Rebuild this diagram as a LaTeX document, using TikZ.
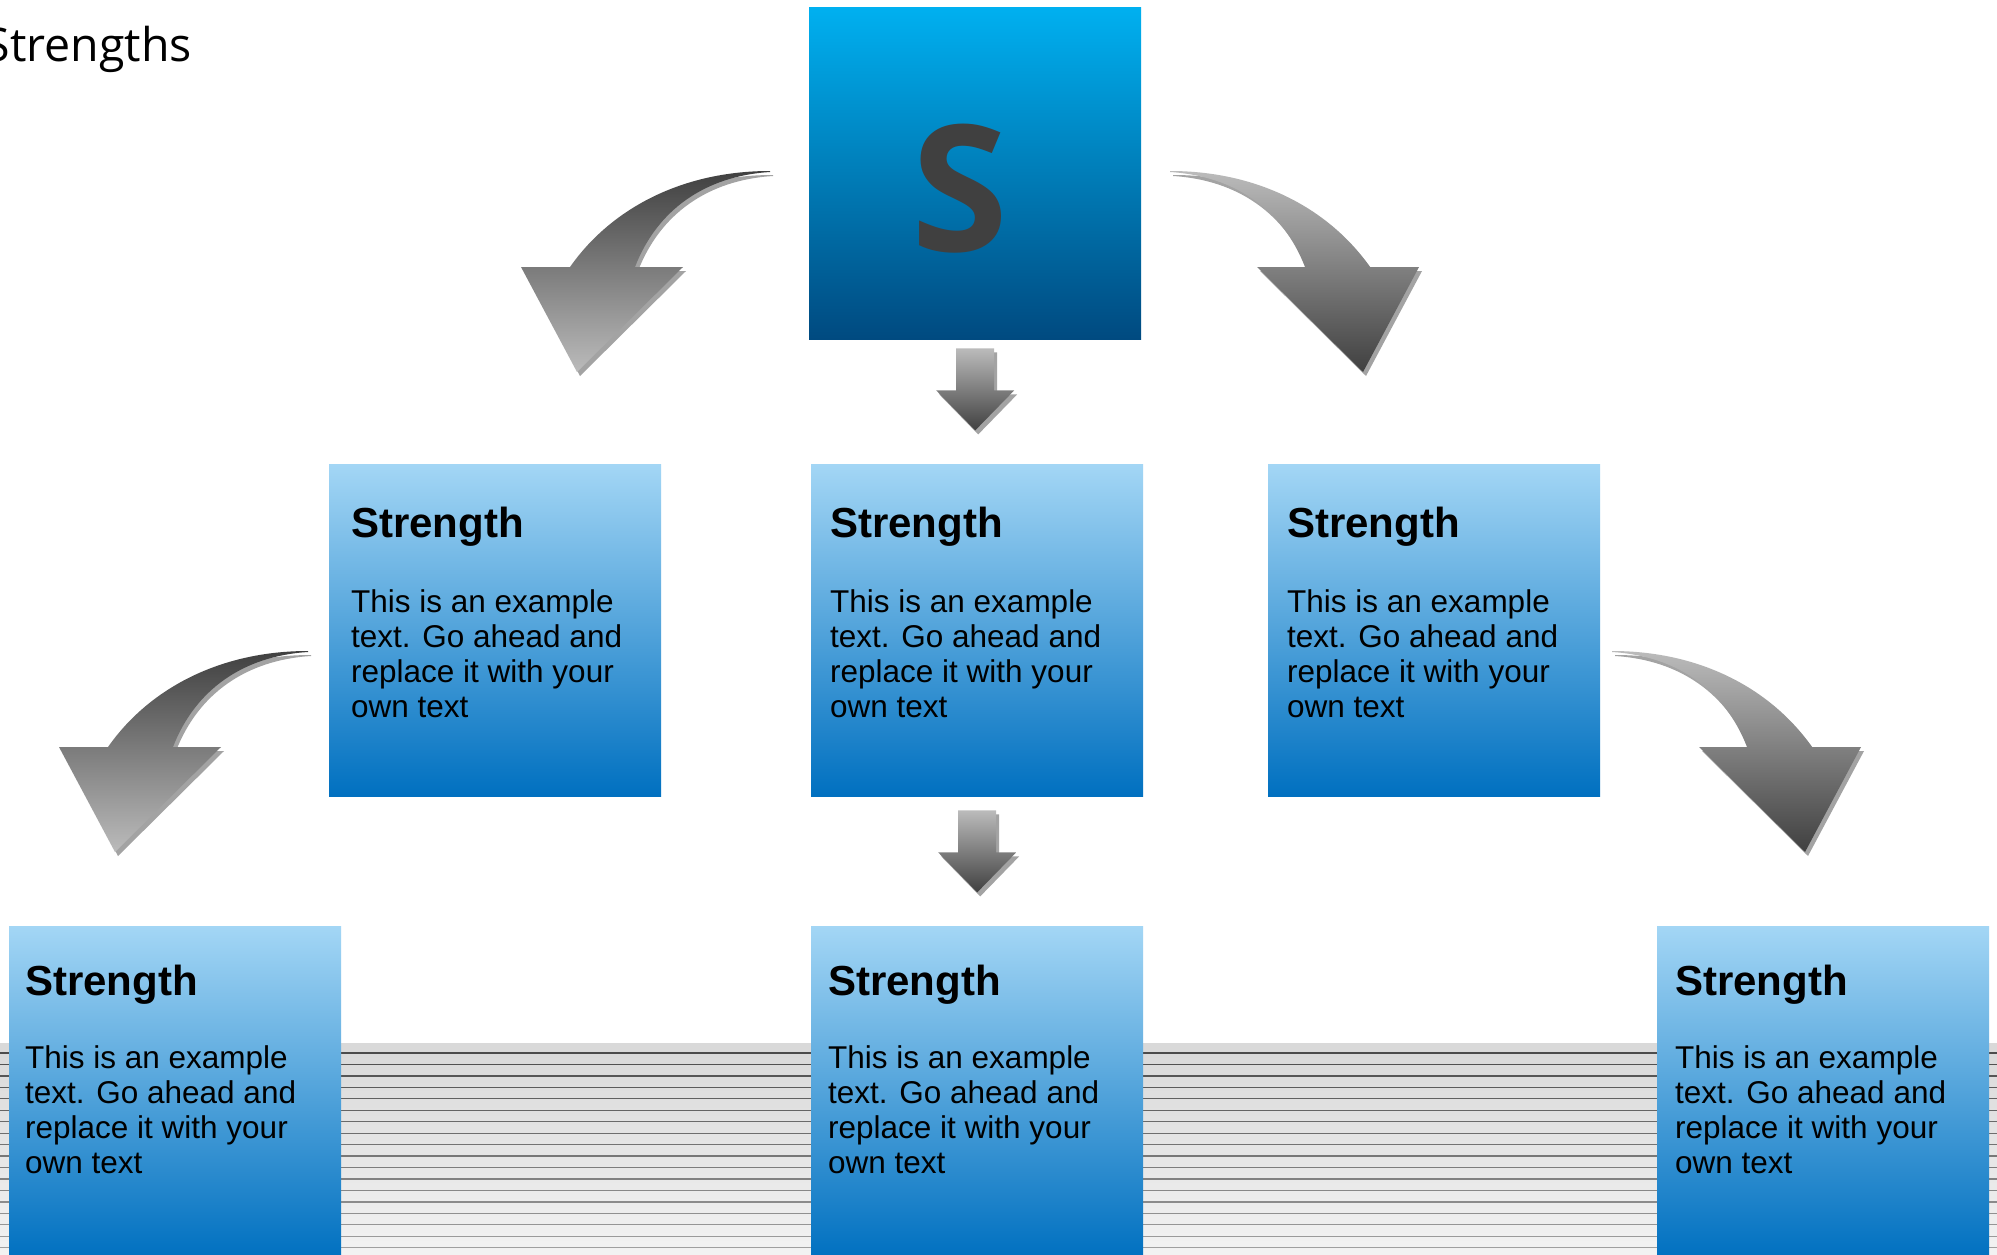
\documentclass[tikz,border=0pt]{standalone}
\usepackage{fontspec}
\setmainfont{Liberation Sans}
\newfontfamily\opensans{Open Sans}
\usetikzlibrary{calc}
\definecolor{boxtop}{HTML}{A3D6F5}
\definecolor{boxbot}{HTML}{0070C0}
\definecolor{stopc}{HTML}{00B0F0}
\definecolor{sbotc}{HTML}{004A80}
\definecolor{sletter}{HTML}{404040}
\definecolor{shad}{HTML}{A3A3A3}
\definecolor{adark}{HTML}{404040}
\definecolor{alight}{HTML}{BBBBBB}
\tikzset{
  stbox/.style={rectangle, inner sep=0pt, minimum width=332pt, minimum height=332pt,
    anchor=north west, top color=boxtop, bottom color=boxbot, draw=none},
  sqbox/.style={rectangle, inner sep=0pt, minimum width=332pt, minimum height=332pt,
    anchor=north west, top color=stopc, bottom color=sbotc, draw=none},
  headtxt/.style={anchor=base west, inner sep=0pt, font=\bfseries\fontsize{42}{50}\selectfont},
  bodytxt/.style={anchor=base west, inner sep=0pt, font=\fontsize{31.5}{35}\selectfont},
  curveR/.pic={
    \begin{scope}[shift={(3,4)}]
      \fill[shad] (0,0) .. controls (90,0) and (160,39) .. (200,96) -- (249,96) -- (193,201)
        -- (87,96) -- (135,96) .. controls (113,39) and (65,5) .. (0,1) -- cycle;
    \end{scope}
    \shade[top color=alight, bottom color=adark] (0,0) .. controls (90,0) and (160,39) .. (200,96)
      -- (249,96) -- (193,201) -- (87,96) -- (135,96) .. controls (113,39) and (65,5) .. (0,1) -- cycle;
  },
  curveL/.pic={
    \begin{scope}[shift={(-3,4)}]
      \fill[shad] (0,0) .. controls (90,0) and (160,39) .. (200,96) -- (249,96) -- (193,201)
        -- (87,96) -- (135,96) .. controls (113,39) and (65,5) .. (0,1) -- cycle;
    \end{scope}
    \shade[top color=adark, bottom color=alight] (0,0) .. controls (90,0) and (160,39) .. (200,96)
      -- (249,96) -- (193,201) -- (87,96) -- (135,96) .. controls (113,39) and (65,5) .. (0,1) -- cycle;
  },
  downA/.pic={
    \begin{scope}[shift={(3,4)}]
      \fill[shad] (-19,0) -- (19,0) -- (19,42) -- (39,42) -- (0,82) -- (-39,42) -- (-19,42) -- cycle;
    \end{scope}
    \shade[top color=alight, bottom color=adark] (-19,0) -- (19,0) -- (19,42) -- (39,42) -- (0,82)
      -- (-39,42) -- (-19,42) -- cycle;
  }
}
\newcommand\bodytext{\parbox[t]{320pt}{This is an example\\text. Go ahead and\\replace it with your\\own text}}
\begin{document}
\begin{tikzpicture}[x=1pt, y=-1pt]
\useasboundingbox (0,0) rectangle (1997,1255);
\fill[white] (0,0) rectangle (1997,1255);

% striped floor
\shade[top color=black!15, bottom color=black!5] (0,1043) rectangle (1997,1255);
\foreach \i in {0,...,17} {
  \pgfmathsetmacro\c{70-1.9*\i}
  \draw[black!\c, line width=1.3pt] (0,1053+11.45*\i) -- (1997,1053+11.45*\i);
}

% title
\node[anchor=base east, inner sep=0pt, font=\opensans\fontsize{46.5}{56}\selectfont] (title) at (192,62) {Strengths};

% S box
\node[sqbox] (s) at (809,7) {};
\node[anchor=base, inner sep=0pt, text=sletter, font=\opensans\bfseries\fontsize{176}{176}\selectfont] (sl) at (960,251) {S};

% middle row
\node[stbox] (b1) at (329,464) {};
\node[stbox] (b2) at (811,464) {};
\node[stbox] (b3) at (1268,464) {};
% bottom row
\node[stbox] (b4) at (9,926) {};
\node[stbox] (b5) at (811,926) {};
\node[stbox] (b6) at (1657,926) {};

\node[headtxt] (h1) at ($(b1.north west)+(22,73)$) {Strength};
\node[bodytxt] (t1) at ($(b1.north west)+(22,148)$) {\bodytext};
\node[headtxt] (h2) at ($(b2.north west)+(19,73)$) {Strength};
\node[bodytxt] (t2) at ($(b2.north west)+(19,148)$) {\bodytext};
\node[headtxt] (h3) at ($(b3.north west)+(19,73)$) {Strength};
\node[bodytxt] (t3) at ($(b3.north west)+(19,148)$) {\bodytext};
\node[headtxt] (h4) at ($(b4.north west)+(16,69)$) {Strength};
\node[bodytxt] (t4) at ($(b4.north west)+(16,142)$) {\bodytext};
\node[headtxt] (h5) at ($(b5.north west)+(17,69)$) {Strength};
\node[bodytxt] (t5) at ($(b5.north west)+(17,142)$) {\bodytext};
\node[headtxt] (h6) at ($(b6.north west)+(18,69)$) {Strength};
\node[bodytxt] (t6) at ($(b6.north west)+(18,142)$) {\bodytext};

% arrows
\pic[xscale=-1] at (770,171) {curveL};
\pic at (1170,171) {curveR};
\pic[xscale=-1] at (308,651) {curveL};
\pic at (1612,651) {curveR};
\pic at ($(s.south)+(0,9)$) {downA};
\pic at ($(b2.south)+(0,14)$) {downA};
\end{tikzpicture}
\end{document}
